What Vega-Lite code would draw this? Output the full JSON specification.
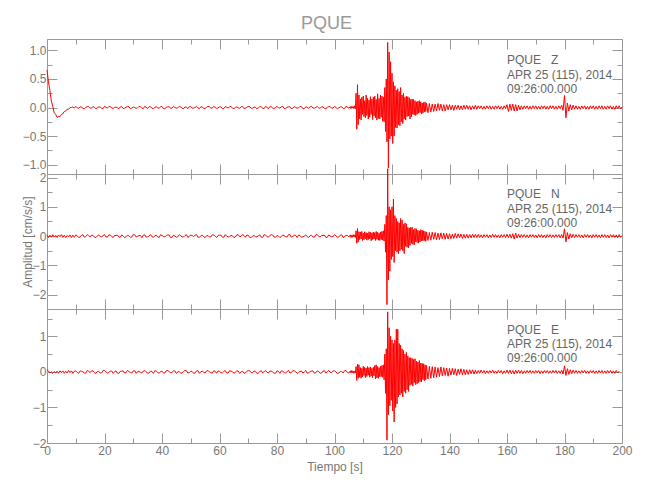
{
  "$schema": "https://vega.github.io/schema/vega-lite/v6.json",
  "background": "white",
  "padding": {"left": 20, "top": 15, "right": 5, "bottom": 5},
  "autosize": {"type": "pad"},
  "title": {"text": "PQUE", "fontSize": 18, "font": "Liberation Sans", "fontWeight": "normal", "color": "#999999", "anchor": "middle", "offset": 5},
  "spacing": 0,
  "bounds": "flush",
  "datasets": {
    "w": [
      {"t":0,"z":0.66,"n":0.04,"e":0.06},{"t":0.5,"z":0.45,"n":-0.05,"e":0.03},{"t":1,"z":0.3,"n":0.03,"e":-0.03},{"t":1.5,"z":0.12,"n":-0.04,"e":0.0},
      {"t":2,"z":0.02,"n":0.05,"e":-0.04},{"t":2.5,"z":-0.09,"n":-0.03,"e":0.01},{"t":3,"z":-0.12,"n":0.02,"e":-0.03},{"t":3.5,"z":-0.17,"n":-0.05,"e":0.02},
      {"t":4,"z":-0.16,"n":0.04,"e":-0.04},{"t":4.5,"z":-0.16,"n":-0.02,"e":0.03},{"t":5,"z":-0.12,"n":0.05,"e":-0.02},{"t":5.5,"z":-0.11,"n":-0.04,"e":0.03},
      {"t":6,"z":-0.07,"n":0.03,"e":-0.04},{"t":6.5,"z":-0.06,"n":-0.05,"e":0.02},{"t":7,"z":-0.03,"n":0.02,"e":-0.03},{"t":7.5,"z":-0.03,"n":-0.03,"e":0.04},
      {"t":8,"z":0.0,"n":0.04,"e":-0.02},{"t":8.5,"z":0.0,"n":-0.05,"e":0.03},{"t":9,"z":0.01,"n":0.03,"e":-0.04},{"t":9.5,"z":-0.01,"n":-0.04,"e":0.02},
      {"t":10,"z":0.02,"n":0.04,"e":0.03},{"t":10.5,"z":-0.005,"n":0.01,"e":-0.01},{"t":11,"z":-0.015,"n":-0.05,"e":-0.04},{"t":11.5,"z":0.012,"n":-0.03,"e":0.025},
      {"t":12,"z":0.01,"n":0.03,"e":0.02},{"t":12.5,"z":-0.018,"n":0.045,"e":0.0},{"t":13,"z":-0.02,"n":-0.04,"e":-0.03},{"t":13.5,"z":0.004,"n":-0.01,"e":-0.035},
      {"t":14,"z":0.015,"n":0.05,"e":0.04},{"t":14.5,"z":0.015,"n":0.02,"e":0.015},{"t":15,"z":-0.01,"n":-0.03,"e":-0.02},{"t":15.5,"z":-0.01,"n":0.035,"e":0.03},
      {"t":16,"z":0.02,"n":0.02,"e":0.03},{"t":16.5,"z":0.0,"n":-0.04,"e":-0.02},{"t":17,"z":-0.02,"n":-0.05,"e":-0.04},{"t":17.5,"z":-0.005,"n":0.0,"e":0.01},
      {"t":18,"z":0.01,"n":0.04,"e":0.01},{"t":18.5,"z":0.012,"n":-0.02,"e":-0.03},{"t":19,"z":-0.015,"n":-0.02,"e":-0.03},{"t":19.5,"z":-0.018,"n":0.01,"e":0.035},
      {"t":20,"z":0.02,"n":0.05,"e":0.04},{"t":20.5,"z":0.004,"n":-0.03,"e":0.005},{"t":21,"z":-0.01,"n":-0.04,"e":-0.03},{"t":21.5,"z":0.015,"n":0.045,"e":-0.01},
      {"t":22,"z":0.02,"n":0.03,"e":0.02},{"t":22.5,"z":-0.01,"n":-0.01,"e":0.025},{"t":23,"z":-0.015,"n":-0.05,"e":-0.04},{"t":23.5,"z":0.0,"n":0.02,"e":0.0},
      {"t":24,"z":0.01,"n":0.02,"e":0.03},{"t":24.5,"z":-0.005,"n":0.035,"e":-0.035},{"t":25,"z":-0.02,"n":-0.03,"e":-0.04},{"t":25.5,"z":0.012,"n":-0.04,"e":0.015},
      {"t":26,"z":0.015,"n":0.04,"e":0.02},{"t":26.5,"z":-0.018,"n":0.0,"e":0.03},{"t":27,"z":-0.01,"n":-0.05,"e":-0.03},{"t":27.5,"z":0.004,"n":-0.02,"e":-0.02},
      {"t":28,"z":0.02,"n":0.03,"e":0.04},{"t":28.5,"z":0.015,"n":0.01,"e":0.01},{"t":29,"z":-0.02,"n":-0.04,"e":-0.02},{"t":29.5,"z":-0.01,"n":-0.03,"e":-0.03},
      {"t":30,"z":0.01,"n":0.05,"e":0.03},{"t":30.5,"z":0.0,"n":0.045,"e":0.035},{"t":31,"z":-0.015,"n":-0.03,"e":-0.04},{"t":31.5,"z":-0.005,"n":-0.01,"e":0.005},
      {"t":32,"z":0.02,"n":0.02,"e":0.01},{"t":32.5,"z":0.012,"n":0.02,"e":-0.01},{"t":33,"z":-0.01,"n":-0.05,"e":-0.03},{"t":33.5,"z":-0.018,"n":0.035,"e":0.025},
      {"t":34,"z":0.02,"n":0.04,"e":0.04},{"t":34.5,"z":0.004,"n":-0.04,"e":0.0},{"t":35,"z":-0.015,"n":-0.02,"e":-0.03},{"t":35.5,"z":0.015,"n":0.0,"e":-0.035},
      {"t":36,"z":0.01,"n":0.05,"e":0.02},{"t":36.5,"z":-0.01,"n":-0.02,"e":0.015},{"t":37,"z":-0.02,"n":-0.04,"e":-0.04},{"t":37.5,"z":0.0,"n":0.01,"e":0.03},
      {"t":38,"z":0.015,"n":0.03,"e":0.03},{"t":38.5,"z":-0.005,"n":-0.03,"e":-0.02},{"t":39,"z":-0.01,"n":-0.05,"e":-0.04},{"t":39.5,"z":0.012,"n":0.045,"e":0.01},
      {"t":40,"z":0.02,"n":0.02,"e":0.02},{"t":40.5,"z":-0.018,"n":-0.01,"e":-0.03},{"t":41,"z":-0.02,"n":-0.03,"e":-0.03},{"t":41.5,"z":0.004,"n":0.02,"e":0.035},
      {"t":42,"z":0.01,"n":0.04,"e":0.04},{"t":42.5,"z":0.015,"n":0.035,"e":0.005},{"t":43,"z":-0.015,"n":-0.05,"e":-0.02},{"t":43.5,"z":-0.01,"n":-0.04,"e":-0.01},
      {"t":44,"z":0.02,"n":0.03,"e":0.03},{"t":44.5,"z":0.0,"n":0.0,"e":0.025},{"t":45,"z":-0.01,"n":-0.04,"e":-0.04},{"t":45.5,"z":-0.005,"n":-0.02,"e":0.0},
      {"t":46,"z":0.02,"n":0.05,"e":0.01},{"t":46.5,"z":0.012,"n":0.01,"e":-0.035},{"t":47,"z":-0.015,"n":-0.03,"e":-0.03},{"t":47.5,"z":-0.018,"n":-0.03,"e":0.015},
      {"t":48,"z":0.01,"n":0.02,"e":0.04},{"t":48.5,"z":0.004,"n":0.045,"e":0.03},{"t":49,"z":-0.02,"n":-0.05,"e":-0.03},{"t":49.5,"z":0.015,"n":-0.01,"e":-0.02},
      {"t":50,"z":0.015,"n":0.04,"e":0.02},{"t":50.5,"z":-0.01,"n":0.02,"e":0.01},{"t":51,"z":-0.01,"n":-0.02,"e":-0.04},{"t":51.5,"z":0.0,"n":0.035,"e":-0.03},
      {"t":52,"z":0.02,"n":0.05,"e":0.03},{"t":52.5,"z":-0.005,"n":-0.04,"e":0.035},{"t":53,"z":-0.02,"n":-0.04,"e":-0.04},{"t":53.5,"z":0.012,"n":0.0,"e":0.005},
      {"t":54,"z":0.01,"n":0.03,"e":0.02},{"t":54.5,"z":-0.018,"n":-0.02,"e":-0.01},{"t":55,"z":-0.015,"n":-0.05,"e":-0.03},{"t":55.5,"z":0.004,"n":0.01,"e":0.025},
      {"t":56,"z":0.02,"n":0.02,"e":0.04},{"t":56.5,"z":0.015,"n":-0.03,"e":0.0},{"t":57,"z":-0.01,"n":-0.03,"e":-0.02},{"t":57.5,"z":-0.01,"n":0.045,"e":-0.035},
      {"t":58,"z":0.02,"n":0.04,"e":0.03},{"t":58.5,"z":0.0,"n":-0.01,"e":0.015},{"t":59,"z":-0.015,"n":-0.05,"e":-0.04},{"t":59.5,"z":-0.005,"n":0.02,"e":0.03},
      {"t":60,"z":0.01,"n":0.03,"e":0.01},{"t":60.5,"z":0.012,"n":0.035,"e":-0.02},{"t":61,"z":-0.02,"n":-0.04,"e":-0.03},{"t":61.5,"z":-0.018,"n":-0.04,"e":0.01},
      {"t":62,"z":0.015,"n":0.05,"e":0.04},{"t":62.5,"z":0.004,"n":0.0,"e":-0.03},{"t":63,"z":-0.01,"n":-0.03,"e":-0.03},{"t":63.5,"z":0.015,"n":-0.02,"e":0.035},
      {"t":64,"z":0.02,"n":0.02,"e":0.02},{"t":64.5,"z":-0.01,"n":0.01,"e":0.005},{"t":65,"z":-0.02,"n":-0.05,"e":-0.04},{"t":65.5,"z":0.0,"n":-0.03,"e":-0.01},
      {"t":66,"z":0.01,"n":0.04,"e":0.03},{"t":66.5,"z":-0.005,"n":0.045,"e":0.025},{"t":67,"z":-0.015,"n":-0.02,"e":-0.04},{"t":67.5,"z":0.012,"n":-0.01,"e":0.0},
      {"t":68,"z":0.02,"n":0.05,"e":0.02},{"t":68.5,"z":-0.018,"n":0.02,"e":-0.035},{"t":69,"z":-0.01,"n":-0.04,"e":-0.03},{"t":69.5,"z":0.004,"n":0.035,"e":0.015},
      {"t":70,"z":0.02,"n":0.03,"e":0.04},{"t":70.5,"z":0.015,"n":-0.04,"e":0.03},{"t":71,"z":-0.015,"n":-0.05,"e":-0.02},{"t":71.5,"z":-0.01,"n":0.0,"e":-0.02},
      {"t":72,"z":0.01,"n":0.02,"e":0.03},{"t":72.5,"z":0.0,"n":-0.02,"e":0.01},{"t":73,"z":-0.02,"n":-0.03,"e":-0.04},{"t":73.5,"z":-0.005,"n":0.01,"e":-0.03},
      {"t":74,"z":0.015,"n":0.04,"e":0.01},{"t":74.5,"z":0.012,"n":-0.03,"e":0.035},{"t":75,"z":-0.01,"n":-0.05,"e":-0.03},{"t":75.5,"z":-0.018,"n":0.045,"e":0.005},
      {"t":76,"z":0.02,"n":0.03,"e":0.04},{"t":76.5,"z":0.004,"n":-0.01,"e":-0.01},{"t":77,"z":-0.02,"n":-0.04,"e":-0.03},{"t":77.5,"z":0.015,"n":0.02,"e":0.025},
      {"t":78,"z":0.01,"n":0.05,"e":0.02},{"t":78.5,"z":-0.01,"n":0.035,"e":0.0},{"t":79,"z":-0.015,"n":-0.03,"e":-0.04},{"t":79.5,"z":0.0,"n":-0.04,"e":-0.035},
      {"t":80,"z":0.02,"n":0.02,"e":0.03},{"t":80.5,"z":-0.005,"n":0.0,"e":0.015},{"t":81,"z":-0.01,"n":-0.05,"e":-0.04},{"t":81.5,"z":0.012,"n":-0.02,"e":0.03},
      {"t":82,"z":0.02,"n":0.04,"e":0.02},{"t":82.5,"z":-0.018,"n":0.01,"e":-0.02},{"t":83,"z":-0.015,"n":-0.02,"e":-0.03},{"t":83.5,"z":0.004,"n":-0.03,"e":0.01},
      {"t":84,"z":0.01,"n":0.05,"e":0.04},{"t":84.5,"z":0.015,"n":0.045,"e":-0.03},{"t":85,"z":-0.02,"n":-0.04,"e":-0.02},{"t":85.5,"z":-0.01,"n":-0.01,"e":0.035},
      {"t":86,"z":0.015,"n":0.03,"e":0.03},{"t":86.5,"z":0.0,"n":0.02,"e":0.005},{"t":87,"z":-0.01,"n":-0.05,"e":-0.04},{"t":87.5,"z":-0.005,"n":0.035,"e":-0.01},
      {"t":88,"z":0.02,"n":0.02,"e":0.01},{"t":88.5,"z":0.012,"n":-0.04,"e":0.025},{"t":89,"z":-0.02,"n":-0.03,"e":-0.03},{"t":89.5,"z":-0.018,"n":0.0,"e":0.0},
      {"t":90,"z":0.01,"n":0.04,"e":0.04},{"t":90.5,"z":0.004,"n":-0.02,"e":-0.035},{"t":91,"z":-0.015,"n":-0.05,"e":-0.03},{"t":91.5,"z":0.015,"n":0.01,"e":0.015},
      {"t":92,"z":0.02,"n":0.03,"e":0.02},{"t":92.5,"z":-0.01,"n":-0.03,"e":0.03},{"t":93,"z":-0.01,"n":-0.04,"e":-0.04},{"t":93.5,"z":0.0,"n":0.045,"e":-0.02},
      {"t":94,"z":0.02,"n":0.05,"e":0.03},{"t":94.5,"z":-0.005,"n":-0.01,"e":0.01},{"t":95,"z":-0.015,"n":-0.03,"e":-0.04},{"t":95.5,"z":0.012,"n":0.02,"e":-0.03},
      {"t":96,"z":0.01,"n":0.02,"e":0.02},{"t":96.5,"z":-0.018,"n":0.035,"e":0.035},{"t":97,"z":-0.02,"n":-0.05,"e":-0.03},{"t":97.5,"z":0.004,"n":-0.04,"e":0.005},
      {"t":98,"z":0.015,"n":0.04,"e":0.04},{"t":98.5,"z":0.015,"n":0.0,"e":-0.01},{"t":99,"z":-0.01,"n":-0.02,"e":-0.02},{"t":99.5,"z":-0.01,"n":-0.02,"e":0.025},
      {"t":100,"z":0.02,"n":0.05,"e":0.03},{"t":100.5,"z":0.0,"n":0.01,"e":0.0},{"t":101,"z":-0.02,"n":-0.04,"e":-0.04},{"t":101.5,"z":-0.005,"n":-0.03,"e":-0.035},
      {"t":102,"z":0.01,"n":0.03,"e":0.01},{"t":102.5,"z":0.012,"n":0.045,"e":0.015},{"t":103,"z":-0.015,"n":-0.05,"e":-0.03},{"t":103.5,"z":-0.018,"n":-0.01,"e":0.03},
      {"t":104,"z":0.02,"n":0.02,"e":0.04},{"t":104.5,"z":0.004,"n":0.02,"e":-0.02},{"t":105,"z":-0.01,"n":-0.03,"e":-0.03},
      {"t":105.5,"z":0.015,"n":0.04,"e":0.03},{"t":105.75,"z":-0.02,"n":-0.05,"e":-0.03},{"t":106,"z":0.02,"n":0.03,"e":0.04},{"t":106.25,"z":-0.01,"n":-0.04,"e":-0.02},
      {"t":106.5,"z":0.02,"n":0.05,"e":0.03},{"t":106.75,"z":-0.02,"n":-0.03,"e":-0.04},{"t":107,"z":0.03,"n":0.04,"e":0.02},{"t":107.25,"z":-0.02,"n":-0.05,"e":-0.03},
      {"t":107.5,"z":0.25,"n":0.18,"e":0.15},{"t":107.75,"z":-0.38,"n":-0.25,"e":-0.24},{"t":108,"z":0.4,"n":0.26,"e":0.22},{"t":108.25,"z":-0.3,"n":-0.2,"e":-0.18},
      {"t":108.5,"z":0.22,"n":0.15,"e":0.2},{"t":108.75,"z":-0.2,"n":-0.12,"e":-0.15},{"t":109,"z":0.15,"n":0.14,"e":0.12},{"t":109.25,"z":-0.22,"n":-0.1,"e":-0.18},
      {"t":109.5,"z":0.18,"n":0.16,"e":0.1},{"t":109.75,"z":-0.12,"n":-0.15,"e":-0.14},{"t":110,"z":0.2,"n":0.1,"e":0.16},{"t":110.25,"z":-0.16,"n":-0.13,"e":-0.1},
      {"t":110.5,"z":0.12,"n":0.15,"e":0.13},{"t":110.75,"z":-0.18,"n":-0.09,"e":-0.16},{"t":111,"z":0.22,"n":0.12,"e":0.11},{"t":111.25,"z":-0.14,"n":-0.14,"e":-0.13},
      {"t":111.5,"z":0.16,"n":0.1,"e":0.15},{"t":111.75,"z":-0.2,"n":-0.12,"e":-0.09},{"t":112,"z":0.13,"n":0.15,"e":0.12},{"t":112.25,"z":-0.17,"n":-0.1,"e":-0.15},
      {"t":112.5,"z":0.19,"n":0.13,"e":0.14},{"t":112.75,"z":-0.12,"n":-0.16,"e":-0.12},{"t":113,"z":0.15,"n":0.11,"e":0.1},{"t":113.25,"z":-0.21,"n":-0.12,"e":-0.16},
      {"t":113.5,"z":0.18,"n":0.14,"e":0.13},{"t":113.75,"z":-0.15,"n":-0.1,"e":-0.11},{"t":114,"z":0.2,"n":0.12,"e":0.18},{"t":114.25,"z":-0.18,"n":-0.15,"e":-0.2},
      {"t":114.5,"z":0.14,"n":0.16,"e":0.2},{"t":114.75,"z":-0.22,"n":-0.11,"e":-0.17},{"t":115,"z":0.24,"n":0.13,"e":0.15},{"t":115.25,"z":-0.19,"n":-0.14,"e":-0.18},
      {"t":115.5,"z":0.16,"n":0.1,"e":0.12},{"t":115.75,"z":-0.2,"n":-0.15,"e":-0.14},{"t":116,"z":0.22,"n":0.14,"e":0.16},{"t":116.25,"z":-0.17,"n":-0.12,"e":-0.13},
      {"t":116.5,"z":0.2,"n":0.16,"e":0.18},{"t":116.75,"z":-0.24,"n":-0.14,"e":-0.15},{"t":117,"z":0.18,"n":0.18,"e":0.2},{"t":117.25,"z":-0.25,"n":-0.17,"e":-0.22},
      {"t":117.5,"z":0.35,"n":0.4,"e":0.5},{"t":117.75,"z":-0.42,"n":-0.55,"e":-0.6},{"t":118,"z":0.5,"n":0.7,"e":0.65},{"t":118.25,"z":-0.6,"n":-2.34,"e":-1.92},
      {"t":118.5,"z":1.14,"n":2.3,"e":1.69},{"t":118.75,"z":-1.06,"n":-1.5,"e":-1.2},{"t":119,"z":0.97,"n":1.0,"e":1.24},{"t":119.25,"z":-0.55,"n":-1.2,"e":-0.95},
      {"t":119.5,"z":0.8,"n":0.9,"e":1.0},{"t":119.75,"z":-0.5,"n":-0.8,"e":-0.8},{"t":120,"z":0.6,"n":1.0,"e":0.9},{"t":120.25,"z":-0.63,"n":-0.7,"e":-1.1},
      {"t":120.5,"z":0.45,"n":1.26,"e":0.8},{"t":120.75,"z":-0.5,"n":-0.9,"e":-1.41},{"t":121,"z":0.38,"n":0.7,"e":0.9},{"t":121.25,"z":-0.35,"n":-0.5,"e":-1.0},
      {"t":121.5,"z":0.3,"n":0.6,"e":1.2},{"t":121.75,"z":-0.36,"n":-0.55,"e":-0.9},{"t":122,"z":0.33,"n":0.5,"e":1.2},{"t":122.25,"z":-0.3,"n":-0.6,"e":-0.7},
      {"t":122.5,"z":0.28,"n":0.45,"e":0.8},{"t":122.75,"z":-0.32,"n":-0.5,"e":-0.65},{"t":123,"z":0.35,"n":0.6,"e":0.75},{"t":123.25,"z":-0.25,"n":-0.45,"e":-0.6},
      {"t":123.5,"z":0.22,"n":0.55,"e":0.65},{"t":123.75,"z":-0.28,"n":-0.5,"e":-0.7},{"t":124,"z":0.25,"n":0.4,"e":0.6},{"t":124.25,"z":-0.2,"n":-0.6,"e":-0.55},
      {"t":124.5,"z":0.18,"n":0.45,"e":0.5},{"t":124.75,"z":-0.22,"n":-0.35,"e":-0.6},{"t":125,"z":0.2,"n":0.42,"e":0.55},{"t":125.25,"z":-0.16,"n":-0.38,"e":-0.5},
      {"t":125.5,"z":0.19,"n":0.3,"e":0.45},{"t":125.75,"z":-0.15,"n":-0.4,"e":-0.55},{"t":126,"z":0.17,"n":0.28,"e":0.4},{"t":126.25,"z":-0.2,"n":-0.32,"e":-0.38},
      {"t":126.5,"z":0.14,"n":0.3,"e":0.4},{"t":126.75,"z":-0.16,"n":-0.25,"e":-0.35},{"t":127,"z":0.15,"n":0.3,"e":0.38},{"t":127.25,"z":-0.12,"n":-0.28,"e":-0.4},
      {"t":127.5,"z":0.14,"n":0.22,"e":0.35},{"t":127.75,"z":-0.13,"n":-0.3,"e":-0.3},{"t":128,"z":0.12,"n":0.26,"e":0.37},{"t":128.25,"z":-0.14,"n":-0.2,"e":-0.36},
      {"t":128.5,"z":0.1,"n":0.25,"e":0.3},{"t":128.75,"z":-0.12,"n":-0.22,"e":-0.33},{"t":129,"z":0.11,"n":0.2,"e":0.28},{"t":129.25,"z":-0.1,"n":-0.24,"e":-0.3},
      {"t":129.5,"z":0.12,"n":0.18,"e":0.32},{"t":129.75,"z":-0.09,"n":-0.2,"e":-0.27},{"t":130,"z":0.1,"n":0.22,"e":0.25},{"t":130.25,"z":-0.11,"n":-0.17,"e":-0.28},
      {"t":130.5,"z":0.08,"n":0.2,"e":0.24},{"t":130.75,"z":-0.1,"n":-0.16,"e":-0.22},{"t":131,"z":0.09,"n":0.18,"e":0.23},{"t":131.25,"z":-0.08,"n":-0.15,"e":-0.25},
      {"t":131.5,"z":0.1,"n":0.16,"e":0.2},{"t":131.75,"z":-0.07,"n":-0.18,"e":-0.22},{"t":132,"z":0.08,"n":0.14,"e":0.18},
      {"t":132.5,"z":-0.09,"n":-0.15,"e":-0.2},{"t":133,"z":0.07,"n":0.12,"e":0.16},{"t":133.5,"z":-0.08,"n":-0.14,"e":-0.18},{"t":134,"z":0.06,"n":0.13,"e":0.15},
      {"t":134.5,"z":-0.07,"n":-0.11,"e":-0.17},{"t":135,"z":0.06,"n":0.12,"e":0.14},{"t":135.5,"z":-0.06,"n":-0.13,"e":-0.15},{"t":136,"z":0.07,"n":0.1,"e":0.12},
      {"t":136.5,"z":-0.05,"n":-0.12,"e":-0.13},{"t":137,"z":0.06,"n":0.11,"e":0.14},{"t":137.5,"z":-0.06,"n":-0.09,"e":-0.11},{"t":138,"z":0.05,"n":0.1,"e":0.12},
      {"t":138.5,"z":-0.06,"n":-0.11,"e":-0.1},{"t":139,"z":0.05,"n":0.09,"e":0.11},{"t":139.5,"z":-0.04,"n":-0.1,"e":-0.12},{"t":140,"z":0.05,"n":0.08,"e":0.1},
      {"t":140.5,"z":-0.04,"n":-0.09,"e":-0.09},{"t":141,"z":0.04,"n":0.07,"e":0.1},{"t":141.5,"z":-0.05,"n":-0.08,"e":-0.08},{"t":142,"z":0.04,"n":0.09,"e":0.09},
      {"t":142.5,"z":-0.03,"n":-0.07,"e":-0.1},{"t":143,"z":0.04,"n":0.08,"e":0.08},{"t":143.5,"z":-0.04,"n":-0.06,"e":-0.07},{"t":144,"z":0.03,"n":0.07,"e":0.09},
      {"t":144.5,"z":-0.04,"n":-0.08,"e":-0.08},{"t":145,"z":0.04,"n":0.06,"e":0.07},{"t":145.5,"z":-0.03,"n":-0.07,"e":-0.08},{"t":146,"z":0.04,"n":0.06,"e":0.06},
      {"t":146.5,"z":-0.03,"n":-0.07,"e":-0.07},{"t":147,"z":0.03,"n":0.05,"e":0.06},{"t":147.5,"z":-0.04,"n":-0.06,"e":-0.05},{"t":148,"z":0.03,"n":0.07,"e":0.06},
      {"t":148.5,"z":-0.03,"n":-0.05,"e":-0.06},{"t":149,"z":0.04,"n":0.06,"e":0.05},{"t":149.5,"z":-0.03,"n":-0.05,"e":-0.05},{"t":150,"z":0.03,"n":0.06,"e":0.04},
      {"t":150.5,"z":-0.02,"n":-0.05,"e":-0.04},{"t":151,"z":0.03,"n":0.04,"e":0.05},{"t":151.5,"z":-0.03,"n":-0.06,"e":-0.03},{"t":152,"z":0.02,"n":0.05,"e":0.04},
      {"t":152.5,"z":-0.03,"n":-0.04,"e":-0.05},{"t":153,"z":0.03,"n":0.05,"e":0.03},{"t":153.5,"z":-0.02,"n":-0.06,"e":-0.04},{"t":154,"z":0.03,"n":0.04,"e":0.04},
      {"t":154.5,"z":-0.03,"n":-0.05,"e":-0.03},{"t":155,"z":0.02,"n":0.06,"e":0.05},{"t":155.5,"z":-0.03,"n":-0.04,"e":-0.04},{"t":156,"z":0.03,"n":0.05,"e":0.03},
      {"t":156.5,"z":-0.02,"n":-0.05,"e":-0.04},{"t":157,"z":0.03,"n":0.04,"e":0.04},{"t":157.5,"z":-0.03,"n":-0.06,"e":-0.03},{"t":158,"z":0.02,"n":0.05,"e":0.04},
      {"t":158.5,"z":-0.03,"n":-0.04,"e":-0.05},{"t":159,"z":0.03,"n":0.05,"e":0.03},{"t":159.5,"z":-0.02,"n":-0.05,"e":-0.04},{"t":160,"z":0.05,"n":0.06,"e":0.05},
      {"t":160.5,"z":-0.07,"n":-0.05,"e":-0.04},{"t":161,"z":0.06,"n":0.06,"e":0.05},{"t":161.5,"z":-0.05,"n":-0.07,"e":-0.05},{"t":162,"z":0.06,"n":0.08,"e":0.04},
      {"t":162.5,"z":-0.06,"n":-0.1,"e":-0.06},{"t":163,"z":0.05,"n":0.1,"e":0.05},{"t":163.5,"z":-0.06,"n":-0.07,"e":-0.04},{"t":164,"z":0.04,"n":0.06,"e":0.05},
      {"t":164.5,"z":-0.04,"n":-0.05,"e":-0.04},{"t":165,"z":0.03,"n":0.05,"e":0.04},{"t":165.5,"z":-0.03,"n":-0.04,"e":-0.05},{"t":166,"z":0.03,"n":0.05,"e":0.03},
      {"t":166.5,"z":-0.02,"n":-0.05,"e":-0.04},{"t":167,"z":0.03,"n":0.04,"e":0.04},{"t":167.5,"z":-0.03,"n":-0.06,"e":-0.03},{"t":168,"z":0.02,"n":0.05,"e":0.04},
      {"t":168.5,"z":-0.03,"n":-0.04,"e":-0.04},{"t":169,"z":0.03,"n":0.05,"e":0.03},{"t":169.5,"z":-0.02,"n":-0.05,"e":-0.04},{"t":170,"z":0.03,"n":0.04,"e":0.04},
      {"t":170.5,"z":-0.03,"n":-0.06,"e":-0.03},{"t":171,"z":0.02,"n":0.05,"e":0.04},{"t":171.5,"z":-0.03,"n":-0.04,"e":-0.05},{"t":172,"z":0.03,"n":0.05,"e":0.03},
      {"t":172.5,"z":-0.02,"n":-0.05,"e":-0.04},{"t":173,"z":0.03,"n":0.04,"e":0.04},{"t":173.5,"z":-0.03,"n":-0.06,"e":-0.03},{"t":174,"z":0.02,"n":0.05,"e":0.04},
      {"t":174.5,"z":-0.03,"n":-0.04,"e":-0.04},{"t":175,"z":0.03,"n":0.05,"e":0.03},{"t":175.5,"z":-0.02,"n":-0.05,"e":-0.04},{"t":176,"z":0.03,"n":0.04,"e":0.04},
      {"t":176.5,"z":-0.03,"n":-0.05,"e":-0.03},{"t":177,"z":0.02,"n":0.05,"e":0.04},{"t":177.5,"z":-0.03,"n":-0.04,"e":-0.04},{"t":178,"z":0.03,"n":0.05,"e":0.03},
      {"t":178.5,"z":-0.02,"n":-0.06,"e":-0.04},{"t":179,"z":0.04,"n":0.05,"e":0.05},{"t":179.5,"z":-0.05,"n":-0.07,"e":-0.06},{"t":180,"z":0.21,"n":0.25,"e":0.17},
      {"t":180.5,"z":-0.18,"n":-0.2,"e":-0.1},{"t":181,"z":0.08,"n":0.12,"e":0.09},{"t":181.5,"z":-0.06,"n":-0.1,"e":-0.07},{"t":182,"z":0.05,"n":0.08,"e":0.06},
      {"t":182.5,"z":-0.04,"n":-0.06,"e":-0.05},{"t":183,"z":0.04,"n":0.06,"e":0.05},{"t":183.5,"z":-0.03,"n":-0.05,"e":-0.04},{"t":184,"z":0.03,"n":0.05,"e":0.04},
      {"t":184.5,"z":-0.03,"n":-0.04,"e":-0.04},{"t":185,"z":0.02,"n":0.05,"e":0.03},{"t":185.5,"z":-0.03,"n":-0.05,"e":-0.04},{"t":186,"z":0.03,"n":0.04,"e":0.04},
      {"t":186.5,"z":-0.02,"n":-0.06,"e":-0.03},{"t":187,"z":0.03,"n":0.05,"e":0.04},{"t":187.5,"z":-0.03,"n":-0.04,"e":-0.04},{"t":188,"z":0.02,"n":0.05,"e":0.03},
      {"t":188.5,"z":-0.03,"n":-0.05,"e":-0.04},{"t":189,"z":0.03,"n":0.04,"e":0.04},{"t":189.5,"z":-0.02,"n":-0.06,"e":-0.03},{"t":190,"z":0.03,"n":0.05,"e":0.04},
      {"t":190.5,"z":-0.03,"n":-0.04,"e":-0.04},{"t":191,"z":0.02,"n":0.05,"e":0.03},{"t":191.5,"z":-0.03,"n":-0.05,"e":-0.04},{"t":192,"z":0.03,"n":0.04,"e":0.04},
      {"t":192.5,"z":-0.02,"n":-0.06,"e":-0.03},{"t":193,"z":0.03,"n":0.05,"e":0.04},{"t":193.5,"z":-0.03,"n":-0.04,"e":-0.04},{"t":194,"z":0.02,"n":0.05,"e":0.03},
      {"t":194.5,"z":-0.03,"n":-0.05,"e":-0.04},{"t":195,"z":0.03,"n":0.04,"e":0.04},{"t":195.5,"z":-0.02,"n":-0.06,"e":-0.03},{"t":196,"z":0.03,"n":0.05,"e":0.04},
      {"t":196.5,"z":-0.03,"n":-0.04,"e":-0.04},{"t":197,"z":0.02,"n":0.05,"e":0.03},{"t":197.5,"z":-0.03,"n":-0.05,"e":-0.04},{"t":198,"z":0.03,"n":0.04,"e":0.04},
      {"t":198.5,"z":-0.02,"n":-0.06,"e":-0.03},{"t":199,"z":0.03,"n":0.05,"e":0.02},{"t":199.5,"z":-0.02,"n":-0.04},{"t":200,"z":0.01,"n":0.02}
    ]
  },
  "vconcat": [
    {
      "width": 575, "height": 135,
      "data": {"name": "w"},
      "layer": [
        {"mark": {"type": "line", "color": "#ff0000", "strokeWidth": 1},
         "encoding": {
           "x": {"field": "t", "type": "quantitative", "scale": {"domain": [0, 200], "nice": false, "zero": false}, "axis": {"orient": "bottom", "values": [0,20,40,60,80,100,120,140,160,180,200], "tickSize": -10, "labels": false, "title": null}},
           "y": {"field": "z", "type": "quantitative", "scale": {"domain": [-1.164, 1.2], "nice": false, "zero": false}, "axis": {"orient": "left", "values": [-1,-0.5,0,0.5,1], "tickSize": -10, "labelPadding": 11, "format": ".1f", "title": null}}
         }},
        {"mark": {"type": "point", "opacity": 0},
         "encoding": {
           "x": {"field": "t", "type": "quantitative", "axis": {"orient": "bottom", "values": [10,30,50,70,90,110,130,150,170,190], "tickSize": -5, "labels": false, "title": null}},
           "y": {"field": "z", "type": "quantitative", "axis": {"orient": "left", "values": [-0.75,-0.25,0.25,0.75], "tickSize": -5, "labels": false, "title": null}}
         }},
        {"mark": {"type": "point", "opacity": 0},
         "encoding": {
           "x": {"field": "t", "type": "quantitative", "axis": {"orient": "top", "values": [0,20,40,60,80,100,120,140,160,180,200], "tickSize": -10, "labels": false, "title": null}},
           "y": {"field": "z", "type": "quantitative", "axis": {"orient": "right", "values": [-1,-0.5,0,0.5,1], "tickSize": -10, "labels": false, "title": null}}
         }},
        {"mark": {"type": "point", "opacity": 0},
         "encoding": {
           "x": {"field": "t", "type": "quantitative", "axis": {"orient": "top", "values": [10,30,50,70,90,110,130,150,170,190], "tickSize": -5, "labels": false, "title": null}},
           "y": {"field": "z", "type": "quantitative", "axis": {"orient": "right", "values": [-0.75,-0.25,0.25,0.75], "tickSize": -5, "labels": false, "title": null}}
         }},
        {"data": {"values": [{}]},
         "mark": {"type": "text", "text": ["PQUE\u00a0\u00a0\u00a0Z", "APR 25 (115), 2014", "09:26:00.000"], "align": "left", "baseline": "alphabetic", "lineHeight": 14.3, "fontSize": 12, "color": "#666666"},
         "encoding": {
           "x": {"datum": 160, "type": "quantitative", "axis": null},
           "y": {"datum": 0.756, "type": "quantitative", "axis": null}
         }}
      ],
      "resolve": {"axis": {"x": "independent", "y": "independent"}}
    },
    {
      "width": 575, "height": 135,
      "data": {"name": "w"},
      "layer": [
        {"mark": {"type": "line", "color": "#ff0000", "strokeWidth": 1},
         "encoding": {
           "x": {"field": "t", "type": "quantitative", "scale": {"domain": [0, 200], "nice": false, "zero": false}, "axis": {"orient": "bottom", "values": [0,20,40,60,80,100,120,140,160,180,200], "tickSize": -10, "labels": false, "title": null}},
           "y": {"field": "n", "type": "quantitative", "scale": {"domain": [-2.49, 2.12], "nice": false, "zero": false}, "axis": {"orient": "left", "values": [-2,-1,0,1,2], "tickSize": -10, "labelPadding": 11, "format": "d", "title": "Amplitud [cm/s/s]", "titlePadding": 7, "minExtent": 6, "maxExtent": 6}}
         }},
        {"mark": {"type": "point", "opacity": 0},
         "encoding": {
           "x": {"field": "t", "type": "quantitative", "axis": {"orient": "bottom", "values": [10,30,50,70,90,110,130,150,170,190], "tickSize": -5, "labels": false, "title": null}},
           "y": {"field": "n", "type": "quantitative", "axis": {"orient": "left", "values": [-1.5,-0.5,0.5,1.5], "tickSize": -5, "labels": false, "title": null}}
         }},
        {"mark": {"type": "point", "opacity": 0},
         "encoding": {
           "x": {"field": "t", "type": "quantitative", "axis": {"orient": "top", "values": [0,20,40,60,80,100,120,140,160,180,200], "tickSize": -10, "labels": false, "title": null}},
           "y": {"field": "n", "type": "quantitative", "axis": {"orient": "right", "values": [-2,-1,0,1,2], "tickSize": -10, "labels": false, "title": null}}
         }},
        {"mark": {"type": "point", "opacity": 0},
         "encoding": {
           "x": {"field": "t", "type": "quantitative", "axis": {"orient": "top", "values": [10,30,50,70,90,110,130,150,170,190], "tickSize": -5, "labels": false, "title": null}},
           "y": {"field": "n", "type": "quantitative", "axis": {"orient": "right", "values": [-1.5,-0.5,0.5,1.5], "tickSize": -5, "labels": false, "title": null}}
         }},
        {"data": {"values": [{}]},
         "mark": {"type": "text", "text": ["PQUE\u00a0\u00a0\u00a0N", "APR 25 (115), 2014", "09:26:00.000"], "align": "left", "baseline": "alphabetic", "lineHeight": 14.3, "fontSize": 12, "color": "#666666"},
         "encoding": {
           "x": {"datum": 160, "type": "quantitative", "axis": null},
           "y": {"datum": 1.29, "type": "quantitative", "axis": null}
         }}
      ],
      "resolve": {"axis": {"x": "independent", "y": "independent"}}
    },
    {
      "width": 575, "height": 134,
      "data": {"name": "w"},
      "layer": [
        {"mark": {"type": "line", "color": "#ff0000", "strokeWidth": 1},
         "encoding": {
           "x": {"field": "t", "type": "quantitative", "scale": {"domain": [0, 200], "nice": false, "zero": false}, "axis": {"orient": "bottom", "values": [0,20,40,60,80,100,120,140,160,180,200], "tickSize": -10, "labelPadding": 12, "labelDx": -3, "format": "d", "title": "Tiempo [s]", "titlePadding": 5}},
           "y": {"field": "e", "type": "quantitative", "scale": {"domain": [-2.0, 1.77], "nice": false, "zero": false}, "axis": {"orient": "left", "values": [-2,-1,0,1], "tickSize": -10, "labelPadding": 11, "format": "d", "title": null}}
         }},
        {"mark": {"type": "point", "opacity": 0},
         "encoding": {
           "x": {"field": "t", "type": "quantitative", "axis": {"orient": "bottom", "values": [10,30,50,70,90,110,130,150,170,190], "tickSize": -5, "labels": false, "title": null}},
           "y": {"field": "e", "type": "quantitative", "axis": {"orient": "left", "values": [-1.5,-0.5,0.5,1.5], "tickSize": -5, "labels": false, "title": null}}
         }},
        {"mark": {"type": "point", "opacity": 0},
         "encoding": {
           "x": {"field": "t", "type": "quantitative", "axis": {"orient": "top", "values": [0,20,40,60,80,100,120,140,160,180,200], "tickSize": -10, "labels": false, "title": null}},
           "y": {"field": "e", "type": "quantitative", "axis": {"orient": "right", "values": [-2,-1,0,1], "tickSize": -10, "labels": false, "title": null}}
         }},
        {"mark": {"type": "point", "opacity": 0},
         "encoding": {
           "x": {"field": "t", "type": "quantitative", "axis": {"orient": "top", "values": [10,30,50,70,90,110,130,150,170,190], "tickSize": -5, "labels": false, "title": null}},
           "y": {"field": "e", "type": "quantitative", "axis": {"orient": "right", "values": [-1.5,-0.5,0.5,1.5], "tickSize": -5, "labels": false, "title": null}}
         }},
        {"data": {"values": [{}]},
         "mark": {"type": "text", "text": ["PQUE\u00a0\u00a0\u00a0E", "APR 25 (115), 2014", "09:26:00.000"], "align": "left", "baseline": "alphabetic", "lineHeight": 14.3, "fontSize": 12, "color": "#666666"},
         "encoding": {
           "x": {"datum": 160, "type": "quantitative", "axis": null},
           "y": {"datum": 1.07, "type": "quantitative", "axis": null}
         }}
      ],
      "resolve": {"axis": {"x": "independent", "y": "independent"}}
    }
  ],
  "config": {
    "view": {"stroke": "#999999", "strokeWidth": 1},
    "axis": {
      "grid": false, "domain": false, "tickColor": "#999999", "tickWidth": 1,
      "labelColor": "#777777", "labelFont": "Liberation Sans", "labelFontSize": 12,
      "titleColor": "#777777", "titleFont": "Liberation Sans", "titleFontSize": 12, "titleFontWeight": "normal",
      "labelOverlap": false, "labelFlush": false, "labelBound": false, "minExtent": 0
    },
    "text": {"font": "Liberation Sans"}
  }
}
